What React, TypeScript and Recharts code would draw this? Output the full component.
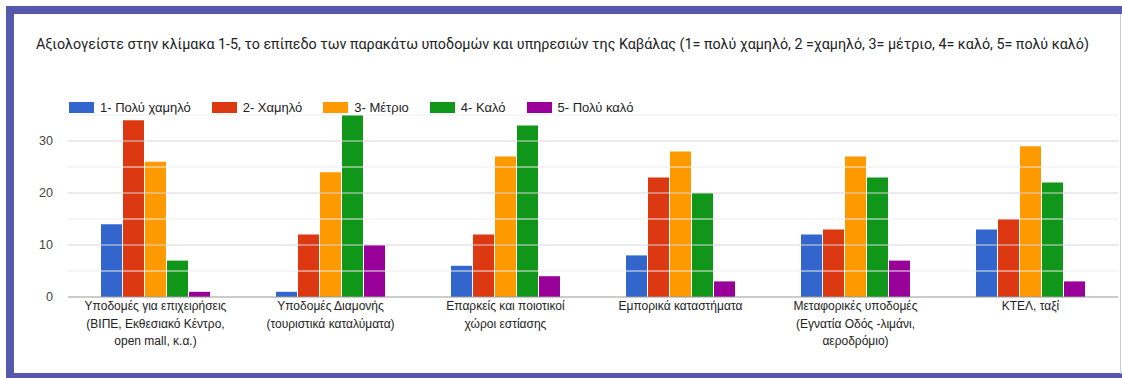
import React from 'react';
import { BarChart, Bar, XAxis, YAxis, ReferenceLine } from 'recharts';

const title =
	'Αξιολογείστε στην κλίμακα 1-5, το επίπεδο των παρακάτω υποδομών και υπηρεσιών της Καβάλας (1= πολύ χαμηλό, 2 =χαμηλό, 3= μέτριο, 4= καλό, 5= πολύ καλό)';

const categories = [
	['Υποδομές για επιχειρήσεις', '(ΒΙΠΕ, Εκθεσιακό Κέντρο,', 'open mall, κ.α.)'],
	['Υποδομές Διαμονής', '(τουριστικά καταλύματα)'],
	['Επαρκείς και ποιοτικοί', 'χώροι εστίασης'],
	['Εμπορικά καταστήματα'],
	['Μεταφορικές υποδομές', '(Εγνατία Οδός -λιμάνι,', 'αεροδρόμιο)'],
	['ΚΤΕΛ, ταξί'],
];

const seriesNames = ['1- Πολύ χαμηλό', '2- Χαμηλό', '3- Μέτριο', '4- Καλό', '5- Πολύ καλό'];
const seriesColors = ['#3366cc', '#dc3912', '#ff9900', '#109618', '#990099'];

const veryLow = [14, 1, 6, 8, 12, 13];
const low = [34, 12, 12, 23, 13, 15];
const medium = [26, 24, 27, 28, 27, 29];
const good = [7, 35, 33, 20, 23, 22];
const veryGood = [1, 10, 4, 3, 7, 3];

const seriesValues = [veryLow, low, medium, good, veryGood];

const yTicks = [0, 10, 20, 30];
const majorGrid = [10, 20, 30];
const minorGrid = [5, 15, 25, 35];

const data = categories.map((lines, i) => {
	const row: any = { name: lines.join(' '), idx: i };
	seriesNames.forEach((s, j) => {
		row[s] = seriesValues[j][i];
	});
	return row;
});

const XTick = (props: any) => {
	const { x, y, payload } = props;
	const lines = categories[payload.index] || [];
	return (
		<text
			x={x}
			y={y}
			textAnchor="middle"
			fill="#222"
			fontSize={12}
			fontFamily="'Liberation Sans', Arial, sans-serif"
		>
			{lines.map((l, i) => (
				<tspan key={i} x={x} dy={i === 0 ? 12 : 17.5}>
					{l}
				</tspan>
			))}
		</text>
	);
};

const App: React.FC = () => {
	return (
		<div
			style={{
				position: 'absolute',
				left: 0,
				top: 0,
				width: 1122,
				height: 378,
				background: '#fff',
				overflow: 'hidden',
			}}
		>
			{/* frame */}
			<div style={{ position: 'absolute', left: 6, top: 6, width: 1116, height: 8, background: '#5659a9' }} />
			<div style={{ position: 'absolute', left: 6, top: 6, width: 8, height: 372, background: '#5659a9' }} />
			<div style={{ position: 'absolute', left: 6, top: 373, width: 1116, height: 5, background: '#5659a9' }} />
			<div style={{ position: 'absolute', left: 1120, top: 14, width: 1, height: 360, background: '#c9cbe3' }} />

			<div
				style={{
					position: 'absolute',
					left: 36,
					top: 36,
					fontFamily: 'Roboto, sans-serif',
					fontSize: 14.3,
					color: '#202124',
					whiteSpace: 'nowrap',
				}}
			>
				{title}
			</div>

			<div
				style={{
					position: 'absolute',
					left: 69,
					top: 100,
					display: 'flex',
					alignItems: 'center',
					fontFamily: "'Liberation Sans', Arial, sans-serif",
					fontSize: 13,
					color: '#222',
				}}
			>
				{seriesNames.map((s, i) => (
					<div key={s} style={{ display: 'flex', alignItems: 'center', marginRight: 21 }}>
						<div style={{ width: 25, height: 11, background: seriesColors[i], marginRight: 6 }} />
						<span>{s}</span>
					</div>
				))}
			</div>

			<div style={{ position: 'absolute', left: 0, top: 0 }}>
				<BarChart
					width={1122}
					height={378}
					data={data}
					margin={{ top: 115, right: 4, bottom: 21, left: 0 }}
					barCategoryGap={33}
					barGap={1}
				>
					{minorGrid.map((v) => (
						<ReferenceLine key={'n' + v} y={v} stroke="#ededed" strokeWidth={1} />
					))}
					{majorGrid.map((v) => (
						<ReferenceLine key={'m' + v} y={v} stroke="#d6d6d6" strokeWidth={1} />
					))}
					<XAxis
						dataKey="name"
						height={60}
						interval={0}
						tickLine={false}
						tickSize={0}
						tickMargin={1}
						axisLine={{ stroke: '#999' }}
						tick={<XTick />}
					/>
					<YAxis
						width={68}
						domain={[0, 35]}
						ticks={yTicks}
						axisLine={false}
						tickLine={false}
						tickSize={0}
						tickMargin={15}
						tick={{ fill: '#444', fontSize: 12.5, fontFamily: "'Liberation Sans', Arial, sans-serif" }}
					/>
					{seriesNames.map((s, i) => (
						<Bar key={s} dataKey={s} fill={seriesColors[i]} isAnimationActive={false} />
					))}
				</BarChart>
			</div>
		</div>
	);
};

export default App;
